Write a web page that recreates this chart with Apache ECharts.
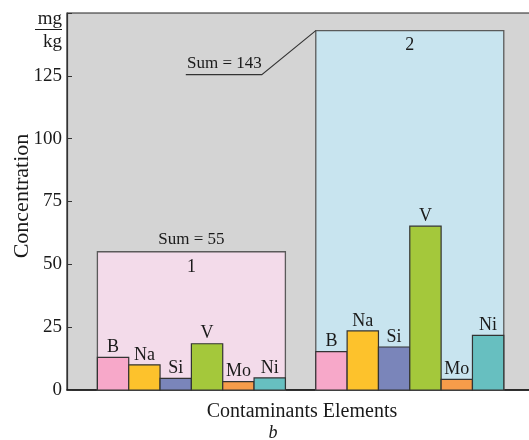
<!DOCTYPE html>
<html>
<head>
<meta charset="utf-8">
<script src="https://cdn.jsdelivr.net/npm/echarts@6/dist/echarts.min.js"></script>
<style>
  html, body { margin: 0; padding: 0; background: #fff; }
  #chart { width: 529px; height: 440px; }
</style>
</head>
<body>
<div id="chart"></div>
<script>
// Contaminant elements measured in two samples (mg/kg)
const elements = ['B', 'Na', 'Si', 'V', 'Mo', 'Ni'];
const sample1 = [13, 10, 4.6, 18.4, 3.3, 4.8];
const sample2 = [15.3, 23.5, 17.1, 65.2, 4.2, 21.7];
const sampleNames = ['1', '2'];
const sampleSums = [55, 143];
const yTicks = [0, 25, 50, 75, 100, 125];

const elementColors = ['#f7a8c9', '#fdc22c', '#7a85ba', '#a4c83b', '#f79c4a', '#67bfc0'];
const boxColors = ['#f3dbea', '#c8e4ef'];
const groupStart = [0.97, 7.94];   // left edge of each sample block, in bar widths
const FONT = '"Liberation Serif", "Times New Roman", serif';

const samples = [sample1, sample2];
const barData = [];
samples.forEach((vals, g) => {
  vals.forEach((v, i) => barData.push([groupStart[g] + i, v, i, g]));
});
const boxData = sampleSums.map((s, g) => [groupStart[g], s, g]);

const chart = echarts.init(document.getElementById('chart'), null, { renderer: 'canvas' });

chart.setOption({
  animation: false,
  grid: {
    left: 67, top: 13, width: 470, bottom: 50,
    outerBoundsMode: 'none', containLabel: false,
    show: true, backgroundColor: '#d4d4d4', borderColor: '#222', borderWidth: 1.2
  },
  xAxis: {
    type: 'value', min: 0, max: 15,
    axisLine: { show: true, onZero: false, lineStyle: { color: '#111', width: 1.5 } },
    axisTick: { show: false }, axisLabel: { show: false }, splitLine: { show: false },
    name: 'Contaminants Elements', nameLocation: 'middle', nameGap: 12,
    nameTextStyle: { fontFamily: FONT, fontSize: 20, color: '#1a1a1a', verticalAlign: 'top' }
  },
  yAxis: {
    type: 'value', min: 0, max: 150, interval: 25,
    axisLine: { show: true, lineStyle: { color: '#333', width: 1.2 } },
    axisTick: { show: true, inside: true, length: 5, lineStyle: { color: '#333' } },
    axisLabel: {
      fontFamily: FONT, fontSize: 19, color: '#1a1a1a', margin: 5,
      formatter: v => (yTicks.indexOf(v) >= 0 ? String(v) : '')
    },
    splitLine: { show: false }
  },
  series: [
    {
      // sample blocks with their totals
      type: 'custom',
      data: boxData,
      encode: { x: 0, y: 1 },
      renderItem: (params, api) => {
        const g = api.value(2);
        const tl = api.coord([api.value(0), api.value(1)]);
        const br = api.coord([api.value(0) + 6, 0]);
        const cx = (tl[0] + br[0]) / 2;
        const children = [
          {
            type: 'rect',
            shape: { x: tl[0], y: tl[1], width: br[0] - tl[0], height: br[1] - tl[1] },
            style: { fill: boxColors[g], stroke: '#5a5a5a', lineWidth: 1.3 }
          },
          {
            type: 'text',
            x: cx, y: tl[1] + 15,
            style: { text: sampleNames[g], font: '18px ' + FONT, fill: '#1a1a1a', align: 'center', verticalAlign: 'middle' }
          }
        ];
        const sumText = 'Sum = ' + sampleSums[g];
        if (g === 0) {
          children.push({
            type: 'text', x: cx, y: tl[1] - 12,
            style: { text: sumText, font: '17px ' + FONT, fill: '#1a1a1a', align: 'center', verticalAlign: 'middle' }
          });
        } else {
          const kx = tl[0] - 54, ky = tl[1] + 44;
          children.push({
            type: 'polyline',
            shape: { points: [[tl[0], tl[1]], [kx, ky], [kx - 76, ky]] },
            style: { stroke: '#333', lineWidth: 1.1, fill: null }
          });
          children.push({
            type: 'text', x: kx, y: ky - 11,
            style: { text: sumText, font: '17px ' + FONT, fill: '#1a1a1a', align: 'right', verticalAlign: 'middle' }
          });
        }
        return { type: 'group', children };
      },
      z: 1
    },
    {
      // element bars with their symbols
      type: 'custom',
      data: barData,
      encode: { x: 0, y: 1 },
      renderItem: (params, api) => {
        const i = api.value(2);
        const tl = api.coord([api.value(0), api.value(1)]);
        const br = api.coord([api.value(0) + 1, 0]);
        return {
          type: 'group',
          children: [
            {
              type: 'rect',
              shape: { x: tl[0], y: tl[1], width: br[0] - tl[0], height: br[1] - tl[1] },
              style: { fill: elementColors[i], stroke: '#333', lineWidth: 1.2 }
            },
            {
              type: 'text',
              x: (tl[0] + br[0]) / 2, y: tl[1] - 10,
              style: { text: elements[i], font: '18px ' + FONT, fill: '#1a1a1a', align: 'center', verticalAlign: 'middle' }
            }
          ]
        };
      },
      z: 2
    }
  ],
  graphic: [
    { type: 'text', x: 62, y: 19, style: { text: 'mg', font: '19px ' + FONT, fill: '#1a1a1a', align: 'right', verticalAlign: 'middle' } },
    { type: 'line', shape: { x1: 35, y1: 29.5, x2: 62, y2: 29.5 }, style: { stroke: '#1a1a1a', lineWidth: 1 } },
    { type: 'text', x: 62, y: 42, style: { text: 'kg', font: '19px ' + FONT, fill: '#1a1a1a', align: 'right', verticalAlign: 'middle' } },
    { type: 'text', x: 22, y: 196, rotation: Math.PI / 2, style: { text: 'Concentration', font: '22px ' + FONT, fill: '#1a1a1a', align: 'center', verticalAlign: 'middle' } },
    { type: 'text', x: 273, y: 433, style: { text: 'b', font: 'italic 18px ' + FONT, fill: '#1a1a1a', align: 'center', verticalAlign: 'middle' } }
  ]
});
</script>
</body>
</html>
